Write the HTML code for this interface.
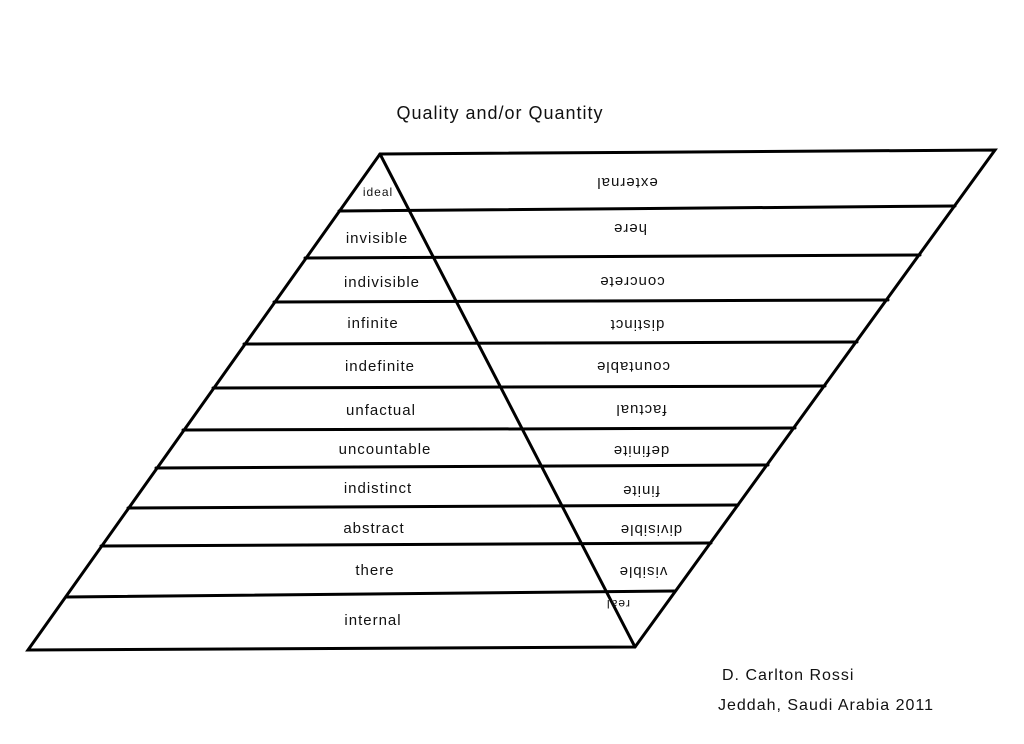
<!DOCTYPE html>
<html><head><style>
html,body{margin:0;padding:0;background:#fff;}
svg{display:block;}
text{font-family:"Liberation Sans",sans-serif;fill:#111;letter-spacing:1px;}
</style></head><body>
<svg width="1024" height="744" viewBox="0 0 1024 744" xmlns="http://www.w3.org/2000/svg">
<rect width="1024" height="744" fill="#fff"/>
<text x="500" y="119" font-size="18" text-anchor="middle">Quality and/or Quantity</text>
<g stroke="#000" stroke-width="3" fill="none" stroke-linecap="round">
<polygon points="380,154 995,150 635,647 28,650"/>
<line x1="380" y1="154" x2="635" y2="647"/>
<line x1="339" y1="211" x2="955" y2="206"/>
<line x1="305" y1="258" x2="920" y2="255"/>
<line x1="274" y1="302" x2="888" y2="300"/>
<line x1="244" y1="344" x2="857" y2="342"/>
<line x1="213" y1="388" x2="825" y2="386"/>
<line x1="183" y1="430" x2="795" y2="428"/>
<line x1="156" y1="468" x2="768" y2="465"/>
<line x1="128" y1="508" x2="738" y2="505"/>
<line x1="101" y1="546" x2="711" y2="543"/>
<line x1="66" y1="597" x2="675" y2="591"/>
</g>
<g font-size="15" text-anchor="middle">
<text x="378" y="196" font-size="12">ideal</text>
<text x="377" y="243">invisible</text>
<text x="382" y="287">indivisible</text>
<text x="373" y="328">infinite</text>
<text x="380" y="371">indefinite</text>
<text x="381" y="415">unfactual</text>
<text x="385" y="454">uncountable</text>
<text x="378" y="493">indistinct</text>
<text x="374" y="533">abstract</text>
<text x="375" y="575">there</text>
<text x="373" y="625">internal</text>
</g>
<g font-size="15" text-anchor="middle">
<text transform="translate(627,178) rotate(180)">external</text>
<text transform="translate(630,224) rotate(180)">here</text>
<text transform="translate(632,277) rotate(180)">concrete</text>
<text transform="translate(637,320) rotate(180)">distinct</text>
<text transform="translate(633,362) rotate(180)">countable</text>
<text transform="translate(641,405) rotate(180)">factual</text>
<text transform="translate(641,446) rotate(180)">definite</text>
<text transform="translate(641,486) rotate(180)">finite</text>
<text transform="translate(651,525) rotate(180)">divisible</text>
<text transform="translate(643,567) rotate(180)">visible</text>
<text transform="translate(618,600) rotate(180)" font-size="12">real</text>
</g>
<text x="722" y="680" font-size="16">D. Carlton Rossi</text>
<text x="718" y="710" font-size="16">Jeddah, Saudi Arabia  2011</text>
</svg>
</body></html>
